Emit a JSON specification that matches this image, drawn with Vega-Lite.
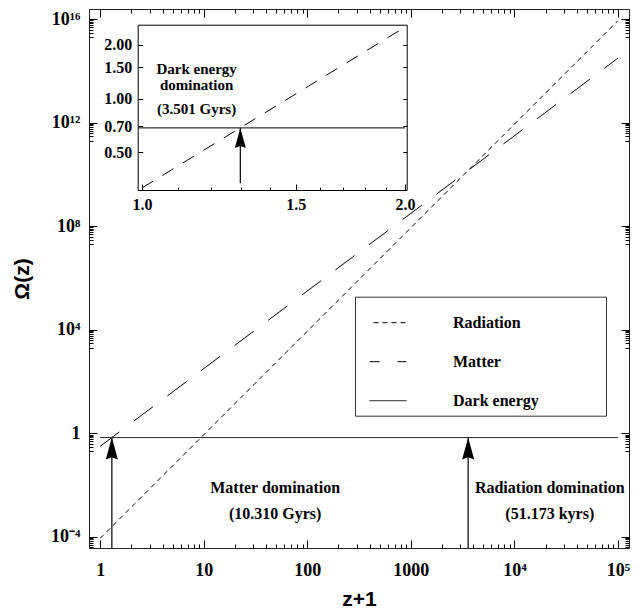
{
  "$schema": "https://vega.github.io/schema/vega-lite/v6.json",
  "width": 540,
  "height": 539,
  "autosize": {"type": "none"},
  "padding": {"left": 89, "top": 9, "right": 13, "bottom": 63},
  "background": "white",
  "config": {
    "view": {"stroke": "#222", "strokeWidth": 1},
    "axis": {"grid": false, "domain": false, "tickColor": "black", "tickWidth": 1, "labelColor": "black", "titleColor": "black", "labelFont": "Liberation Serif", "labelFontWeight": "bold", "labelFontSize": 18, "domainColor": "black"}
  },
  "datasets": {
    "main": [
      {"series": "Radiation", "x": 1, "y": 8.8e-5},
      {"series": "Radiation", "x": 100000, "y": 8.8e15},
      {"series": "Matter", "x": 1, "y": 0.315},
      {"series": "Matter", "x": 100000, "y": 3.15e14},
      {"series": "Dark energy", "x": 1, "y": 0.685},
      {"series": "Dark energy", "x": 100000, "y": 0.685}
    ],
    "arrows": [
      {"x": 1.296, "y": 3.7e-5, "y2": 0.685},
      {"x": 3580, "y": 3.7e-5, "y2": 0.685}
    ],
    "notes": [
      {"x": 49, "y": 0.0077, "text": "Matter domination"},
      {"x": 49, "y": 0.00075, "text": "(10.310 Gyrs)"},
      {"x": 22000, "y": 0.0077, "text": "Radiation domination"},
      {"x": 22000, "y": 0.00075, "text": "(51.173 kyrs)"}
    ],
    "inset": [
      {"series": "Matter", "x": 1, "y": 0.315},
      {"series": "Matter", "x": 2, "y": 2.52},
      {"series": "Dark energy", "x": 0.99, "y": 0.685},
      {"series": "Dark energy", "x": 2, "y": 0.685}
    ],
    "insetArrow": [
      {"x": 1.296, "y": 0.335, "y2": 0.685}
    ],
    "insetNotes": [
      {"x": 1.155, "y": 1.476, "text": "Dark energy"},
      {"x": 1.155, "y": 1.2, "text": "domination"},
      {"x": 1.155, "y": 0.871, "text": "(3.501 Gyrs)"}
    ]
  },
  "layer": [
    {
      "layer": [
        {
          "data": {"name": "main"},
          "mark": {"type": "line", "color": "black", "strokeWidth": 1},
          "encoding": {
            "x": {"field": "x", "type": "quantitative",
              "scale": {"type": "log", "domain": [0.78, 128000], "nice": false},
              "axis": {"orient": "bottom", "values": [1, 10, 100, 1000, 10000, 100000], "tickSize": -8, "labelPadding": 21, "labelOverlap": false, "labelFlush": false,
                "labelExpr": "datum.value == 1 ? '1' : datum.value == 10 ? '10' : datum.value == 100 ? '100' : datum.value == 1000 ? '1000' : datum.value == 10000 ? '10⁴' : datum.value == 100000 ? '10⁵' : ''",
                "title": "z+1", "titleFont": "Liberation Sans", "titleFontSize": 21, "titleFontWeight": "bold", "titlePadding": 9}},
            "y": {"field": "y", "type": "quantitative",
              "scale": {"type": "log", "domain": [3.7e-5, 2.5e16], "nice": false},
              "axis": {"orient": "left", "values": [0.0001, 1, 10000, 100000000, 1000000000000, 10000000000000000], "tickSize": -8, "labelPadding": 17, "labelOverlap": false, "labelFlush": false,
                "labelExpr": "datum.value == 1e16 ? '10¹⁶' : datum.value == 1e12 ? '10¹²' : datum.value == 1e8 ? '10⁸' : datum.value == 10000 ? '10⁴' : datum.value == 1 ? '1' : datum.value == 0.0001 ? '10⁻⁴' : ''",
                "title": "Ω(z)", "titleFont": "Liberation Sans", "titleFontSize": 21, "titleFontWeight": "bold", "titlePadding": 18}},
            "strokeDash": {"field": "series", "type": "nominal",
              "scale": {"domain": ["Radiation", "Matter", "Dark energy"], "range": [[5, 4], [24, 18], [1, 0]]},
              "legend": {"orient": "none", "legendX": 266, "legendY": 287.7, "title": null, "symbolType": "stroke", "symbolSize": 1369, "symbolStrokeWidth": 1, "symbolStrokeColor": "black", "symbolOffset": 7, "symbolDashOffset": 14,
                "labelFont": "Liberation Serif", "labelFontWeight": "bold", "labelFontSize": 16, "labelColor": "black", "labelOffset": 46, "labelLimit": 400,
                "strokeColor": "#333", "fillColor": "white", "padding": 7, "rowPadding": 12,
                "labelExpr": "datum.label + '\u00a0\u00a0\u00a0\u00a0\u00a0\u00a0\u00a0\u00a0\u00a0\u00a0\u00a0\u00a0\u00a0\u00a0\u00a0\u200b'"}}
          }
        },
        {
          "data": {"name": "arrows"},
          "mark": {"type": "rule", "color": "#333", "strokeWidth": 1.5},
          "encoding": {
            "x": {"field": "x", "type": "quantitative",
              "scale": {"type": "log", "domain": [0.78, 128000], "nice": false},
              "axis": {"orient": "top", "values": [1, 10, 100, 1000, 10000, 100000], "tickSize": -8, "labels": false, "title": null}},
            "y": {"field": "y", "type": "quantitative",
              "scale": {"type": "log", "domain": [3.7e-5, 2.5e16], "nice": false},
              "axis": {"orient": "right", "values": [0.0001, 1, 10000, 100000000, 1000000000000, 10000000000000000], "tickSize": -8, "labels": false, "title": null}},
            "y2": {"field": "y2"}
          }
        },
        {
          "data": {"name": "arrows"},
          "mark": {"type": "point", "shape": "M0,-1L0.55,1L0,0.8L-0.55,1Z", "size": 484, "filled": true, "color": "black", "opacity": 1, "strokeWidth": 0, "yOffset": 11},
          "encoding": {
            "x": {"field": "x", "type": "quantitative",
              "scale": {"type": "log", "domain": [0.78, 128000], "nice": false},
              "axis": {"orient": "bottom", "values": [2, 3, 4, 5, 6, 7, 8, 9, 20, 30, 40, 50, 60, 70, 80, 90, 200, 300, 400, 500, 600, 700, 800, 900, 2000, 3000, 4000, 5000, 6000, 7000, 8000, 9000, 20000, 30000, 40000, 50000, 60000, 70000, 80000, 90000], "tickSize": -4, "labels": false, "title": null}},
            "y": {"field": "y2", "type": "quantitative",
              "scale": {"type": "log", "domain": [3.7e-5, 2.5e16], "nice": false},
              "axis": {"orient": "left", "values": [4e-5, 5e-5, 6e-5, 7e-5, 8e-5, 9e-5, 0.2, 0.3, 0.4, 0.5, 0.6, 0.7, 0.8, 0.9, 2000, 3000, 4000, 5000, 6000, 7000, 8000, 9000, 2e7, 3e7, 4e7, 5e7, 6e7, 7e7, 8e7, 9e7, 2e11, 3e11, 4e11, 5e11, 6e11, 7e11, 8e11, 9e11, 2e15, 3e15, 4e15, 5e15, 6e15, 7e15, 8e15, 9e15], "tickSize": -4, "labels": false, "title": null}}
          }
        },
        {
          "data": {"name": "notes"},
          "mark": {"type": "text", "font": "Liberation Serif", "fontWeight": "bold", "fontSize": 16, "align": "center", "baseline": "middle", "color": "black"},
          "encoding": {
            "x": {"field": "x", "type": "quantitative",
              "scale": {"type": "log", "domain": [0.78, 128000], "nice": false},
              "axis": {"orient": "top", "values": [2, 3, 4, 5, 6, 7, 8, 9, 20, 30, 40, 50, 60, 70, 80, 90, 200, 300, 400, 500, 600, 700, 800, 900, 2000, 3000, 4000, 5000, 6000, 7000, 8000, 9000, 20000, 30000, 40000, 50000, 60000, 70000, 80000, 90000], "tickSize": -4, "labels": false, "title": null}},
            "y": {"field": "y", "type": "quantitative",
              "scale": {"type": "log", "domain": [3.7e-5, 2.5e16], "nice": false},
              "axis": {"orient": "right", "values": [4e-5, 5e-5, 6e-5, 7e-5, 8e-5, 9e-5, 0.2, 0.3, 0.4, 0.5, 0.6, 0.7, 0.8, 0.9, 2000, 3000, 4000, 5000, 6000, 7000, 8000, 9000, 2e7, 3e7, 4e7, 5e7, 6e7, 7e7, 8e7, 9e7, 2e11, 3e11, 4e11, 5e11, 6e11, 7e11, 8e11, 9e11, 2e15, 3e15, 4e15, 5e15, 6e15, 7e15, 8e15, 9e15], "tickSize": -4, "labels": false, "title": null}},
            "text": {"field": "text", "type": "nominal"}
          }
        }
      ],
      "resolve": {"axis": {"x": "independent", "y": "independent"}}
    },
    {
      "layer": [
        {
          "data": {"name": "inset"},
          "transform": [{"filter": "datum.series === 'Matter'"}],
          "mark": {"type": "line", "color": "black", "strokeWidth": 1, "strokeDash": [13, 11]},
          "encoding": {
            "x": {"field": "x", "type": "quantitative",
              "scale": {"type": "log", "domain": [0.989, 2.009], "range": [48.7, 317.7], "nice": false},
              "axis": {"orient": "bottom", "offset": -358, "values": [1, 1.5, 2], "tickSize": -6, "labelPadding": 12, "labelFontSize": 16, "labelOverlap": false, "labelFlush": false, "labelExpr": "format(datum.value, '.1f')", "title": null, "domain": true}},
            "y": {"field": "y", "type": "quantitative",
              "scale": {"type": "log", "domain": [0.307, 2.6], "range": [181, 15.7], "nice": false},
              "axis": {"orient": "left", "offset": -48.7, "values": [0.5, 0.7, 1, 1.5, 2], "tickSize": -5, "labelPadding": 11, "labelFontSize": 16, "labelOverlap": false, "labelFlush": false, "labelExpr": "format(datum.value, '.2f')", "title": null, "domain": true}}
          }
        },
        {
          "data": {"name": "inset"},
          "transform": [{"filter": "datum.series === 'Dark energy'"}],
          "mark": {"type": "line", "color": "black", "strokeWidth": 1},
          "encoding": {
            "x": {"field": "x", "type": "quantitative",
              "scale": {"type": "log", "domain": [0.989, 2.009], "range": [48.7, 317.7], "nice": false},
              "axis": {"orient": "top", "offset": -15.7, "values": [1, 1.5, 2], "ticks": false, "labels": false, "title": null, "domain": true}},
            "y": {"field": "y", "type": "quantitative",
              "scale": {"type": "log", "domain": [0.307, 2.6], "range": [181, 15.7], "nice": false},
              "axis": {"orient": "right", "offset": -222.3, "values": [0.5, 0.7, 1, 1.5, 2], "tickSize": -4, "labels": false, "title": null, "domain": true}}
          }
        },
        {
          "data": {"name": "insetArrow"},
          "mark": {"type": "rule", "color": "black", "strokeWidth": 1.2},
          "encoding": {
            "x": {"field": "x", "type": "quantitative",
              "scale": {"type": "log", "domain": [0.989, 2.009], "range": [48.7, 317.7], "nice": false},
              "axis": {"orient": "bottom", "offset": -358, "values": [1.1, 1.2, 1.3, 1.4, 1.6, 1.7, 1.8, 1.9], "tickSize": -3, "labels": false, "title": null, "domain": false}},
            "y": {"field": "y", "type": "quantitative",
              "scale": {"type": "log", "domain": [0.307, 2.6], "range": [181, 15.7], "nice": false},
              "axis": null},
            "y2": {"field": "y2"}
          }
        },
        {
          "data": {"name": "insetArrow"},
          "mark": {"type": "point", "shape": "M0,-1L0.55,1L0,0.8L-0.55,1Z", "size": 400, "filled": true, "color": "black", "opacity": 1, "strokeWidth": 0, "yOffset": 10},
          "encoding": {
            "x": {"field": "x", "type": "quantitative",
              "scale": {"type": "log", "domain": [0.989, 2.009], "range": [48.7, 317.7], "nice": false},
              "axis": null},
            "y": {"field": "y2", "type": "quantitative",
              "scale": {"type": "log", "domain": [0.307, 2.6], "range": [181, 15.7], "nice": false},
              "axis": null}
          }
        },
        {
          "data": {"name": "insetNotes"},
          "mark": {"type": "text", "font": "Liberation Serif", "fontWeight": "bold", "fontSize": 15, "align": "center", "baseline": "middle", "color": "black"},
          "encoding": {
            "x": {"field": "x", "type": "quantitative",
              "scale": {"type": "log", "domain": [0.989, 2.009], "range": [48.7, 317.7], "nice": false},
              "axis": null},
            "y": {"field": "y", "type": "quantitative",
              "scale": {"type": "log", "domain": [0.307, 2.6], "range": [181, 15.7], "nice": false},
              "axis": null},
            "text": {"field": "text", "type": "nominal"}
          }
        }
      ],
      "resolve": {"axis": {"x": "independent", "y": "independent"}}
    }
  ],
  "resolve": {"scale": {"x": "independent", "y": "independent"}, "axis": {"x": "independent", "y": "independent"}}
}
